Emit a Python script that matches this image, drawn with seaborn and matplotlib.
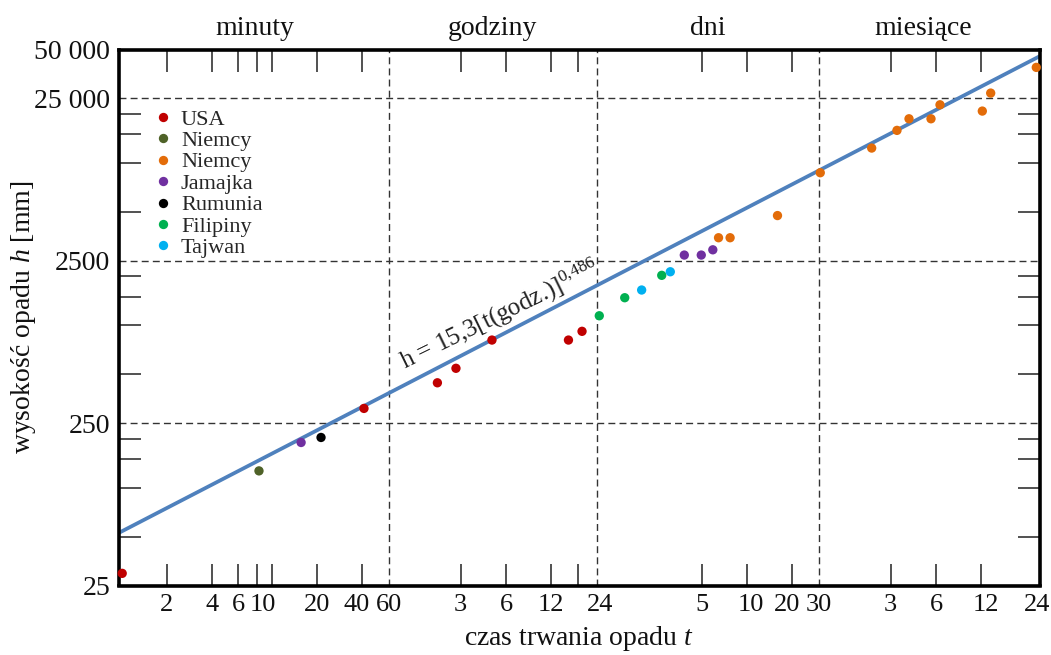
import numpy as np
import pandas as pd
import matplotlib
matplotlib.use("Agg")
import matplotlib.pyplot as plt
import matplotlib.transforms as mtrans
import seaborn as sns
from matplotlib.ticker import FixedLocator, FixedFormatter, NullLocator

# ---------------- data: duration t [h], rainfall depth h [mm] ----------------
usa_t = [0.0169, 0.683, 2.10, 2.79, 4.84, 15.6, 19.2]
usa_h = [29.7, 308, 443, 544, 812, 812, 919]
niemcy1_t = [0.137]
niemcy1_h = [127]
niemcy2_t = [155, 185, 382, 735, 1614, 2377, 2857, 4000, 4590, 8770, 9970, 20030]
niemcy2_h = [3465, 3465, 4745, 8710, 12360, 15880, 18720, 18720, 22830, 20880, 26950, 38800]
jamajka_t = [0.261, 91.8, 119, 142]
jamajka_h = [190, 2710, 2710, 2920]
rumunia_t = [0.354]
rumunia_h = [204]
filipiny_t = [25.0, 36.9, 65.0]
filipiny_h = [1146, 1480, 2033]
tajwan_t = [47.8, 74.1]
tajwan_h = [1651, 2139]

series_keys = ["USA", "Niemcy 1", "Niemcy 2", "Jamajka", "Rumunia", "Filipiny", "Tajwan"]
legend_labels = ["USA", "Niemcy", "Niemcy", "Jamajka", "Rumunia", "Filipiny", "Tajwan"]
series_colors = ["#C00000", "#4F6228", "#E36C09", "#7030A0", "#000000", "#00B050", "#00B0F0"]

# fitted envelope line (read at the plot edges)
line_t = [0.01597, 21200]
line_h = [52.6, 45550]
formula_text = r"h = 15,3[t(godz.)]$^{0{,}486}$"

# axis ticks
x_ticks = [2/60, 4/60, 6/60, 8/60, 10/60, 20/60, 40/60, 1, 3, 6, 12, 18, 24,
           120, 240, 480, 720, 2160, 4320, 8640, 17280]
x_labels = ["2", "4", "6", "", "10", "20", "40", "60", "3", "6", "12", "", "24",
            "5", "10", "20", "30", "3", "6", "12", "24"]
y_ticks = [25, 50, 100, 150, 200, 250, 500, 1000, 1500, 2000, 2500,
           5000, 10000, 15000, 20000, 25000, 50000]
y_labels = ["25", "", "", "", "", "250", "", "", "", "", "2500",
            "", "", "", "", "25 000", "50 000"]
x_grid = [1, 24, 720]
y_grid = [250, 2500, 25000]
region_labels = ["minuty", "godziny", "dni", "miesiące"]
region_edges = [1/60, 1, 24, 720, 17280]

# ---------------- build frame ----------------
frames = []
for key, t, h in zip(series_keys,
                     [usa_t, niemcy1_t, niemcy2_t, jamajka_t, rumunia_t, filipiny_t, tajwan_t],
                     [usa_h, niemcy1_h, niemcy2_h, jamajka_h, rumunia_h, filipiny_h, tajwan_h]):
    frames.append(pd.DataFrame({"t": t, "h": h, "seria": key}))
df = pd.concat(frames, ignore_index=True)

# ---------------- style ----------------
sns.set_style("white")
plt.rcParams["font.family"] = ["Liberation Serif", "DejaVu Serif"]
plt.rcParams["mathtext.fontset"] = "custom"
plt.rcParams["mathtext.rm"] = "Liberation Serif"
plt.rcParams["mathtext.it"] = "Liberation Serif:italic"

fig = plt.figure(figsize=(10.51, 6.55), dpi=100)
ax = fig.add_axes([118.5/1051, 1 - 585.5/655, 921.5/1051, 536/655])
ax.set_xscale("log")
ax.set_yscale("log")
ax.set_xlim(0.01597, 21200)
ax.set_ylim(25, 50000)

grid_kw = dict(color="#333333", lw=1.0, ls=(0, (5, 3)), zorder=1)
for v in x_grid:
    ax.axvline(v, **grid_kw)
for v in y_grid:
    ax.axhline(v, **grid_kw)

sns.lineplot(x=line_t, y=line_h, color="#4F81BD", linewidth=2.7, ax=ax,
             legend=False, zorder=2)

sns.scatterplot(data=df, x="t", y="h", hue="seria", hue_order=series_keys,
                palette=dict(zip(series_keys, series_colors)), s=45, linewidth=0,
                ax=ax, zorder=3, clip_on=False)

handles, _ = ax.get_legend_handles_labels()
ax.legend(handles[:len(series_keys)], legend_labels, loc="upper left",
          bbox_to_anchor=((152 - 118.5)/921.5, (585.5 - 109)/536),
          frameon=False, fontsize=16, handlelength=1.0, handletextpad=0.3,
          labelspacing=0.04, borderpad=0, borderaxespad=0)

# ticks
ax.xaxis.set_major_locator(FixedLocator(x_ticks))
ax.xaxis.set_major_formatter(FixedFormatter(x_labels))
ax.xaxis.set_minor_locator(NullLocator())
ax.yaxis.set_major_locator(FixedLocator(y_ticks))
ax.yaxis.set_major_formatter(FixedFormatter(y_labels))
ax.yaxis.set_minor_locator(NullLocator())
ax.tick_params(axis="both", which="major", direction="in", length=16, width=1.1,
               color="#222222", labelsize=20, bottom=True, left=True,
               top=True, right=True, pad=6, labelcolor="#111111")
ax.tick_params(axis="x", labelsize=19)

# small horizontal nudges (pixels) of crowded tick labels, as in the original layout
label_nudge_px = {4: -9, 6: -6, 12: 3, 14: 4, 15: -5, 19: 5, 20: 10}
px_to_in = 1 / fig.dpi
for i, (tk, v) in enumerate(zip(ax.xaxis.get_major_ticks(), x_ticks)):
    if v in x_grid or v == x_ticks[-1]:
        tk.tick1line.set_visible(False)
        tk.tick2line.set_visible(False)
    if i in label_nudge_px:
        off = mtrans.ScaledTranslation(label_nudge_px[i] * px_to_in, 0, fig.dpi_scale_trans)
        tk.label1.set_transform(tk.label1.get_transform() + off)
for tk, v in zip(ax.yaxis.get_major_ticks(), y_ticks):
    if v in y_grid or v in (25, 50000):
        tk.tick1line.set_visible(False)
        tk.tick2line.set_visible(False)

for sp in ax.spines.values():
    sp.set_linewidth(2.6)
    sp.set_color("black")
    sp.set_visible(True)

ax.set_xlabel(r"czas trwania opadu $t$", fontsize=20, labelpad=6, color="#111111")
ax.set_ylabel(r"wysokość opadu $h$ [mm]", fontsize=20, labelpad=-3, color="#111111")

# region labels above the plot
for lab, a, b in zip(region_labels, region_edges[:-1], region_edges[1:]):
    ax.text(np.sqrt(a*b), 1.027, lab, transform=ax.get_xaxis_transform(),
            ha="center", va="baseline", fontsize=20, color="#111111")

ax.text(1.279, 538, formula_text, rotation=26, rotation_mode="anchor",
        ha="left", va="baseline", fontsize=18, color="#222222")

fig.savefig("out.png", dpi=100)
